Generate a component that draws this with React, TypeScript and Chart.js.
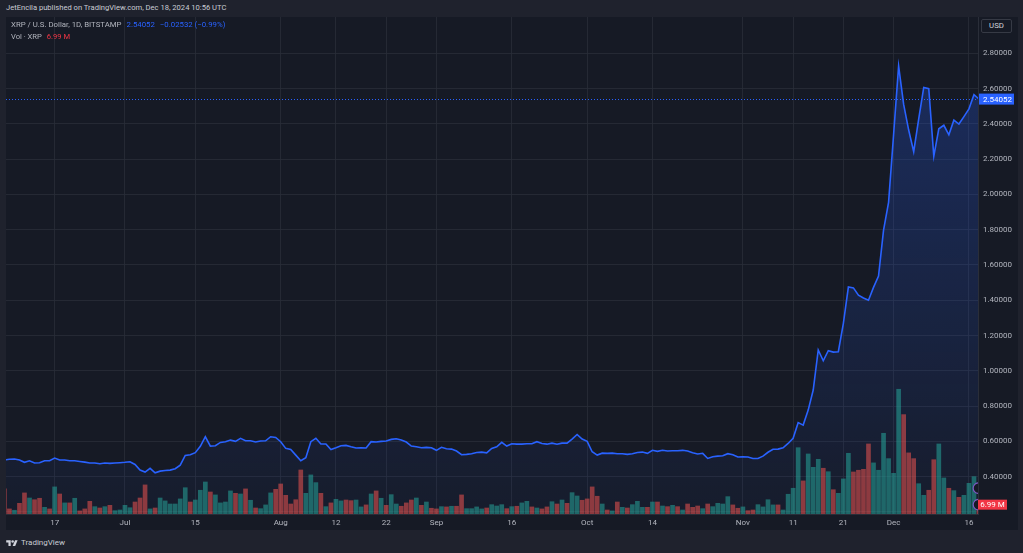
import React, { useEffect, useRef } from "react";
import { Chart, registerables } from "chart.js";

Chart.register(...registerables);

// ---------- data ----------
const START_DATE = "2024-06-07"; // day index 0

// daily close, XRP/USD (Bitstamp), 2024-06-07 .. 2024-12-18
const PRICE_CLOSE = [
  0.494, 0.498, 0.5, 0.494, 0.481, 0.49, 0.477, 0.479, 0.49, 0.49,
  0.505, 0.494, 0.494, 0.49, 0.49, 0.486, 0.482, 0.477, 0.477, 0.473,
  0.477, 0.475, 0.477, 0.479, 0.481, 0.484, 0.469, 0.437, 0.426, 0.447,
  0.422, 0.431, 0.435, 0.437, 0.445, 0.465, 0.52, 0.524, 0.536, 0.572,
  0.626, 0.573, 0.575, 0.594, 0.598, 0.607, 0.6, 0.617, 0.603, 0.603,
  0.596, 0.602, 0.603, 0.626, 0.622, 0.598, 0.56, 0.554, 0.522, 0.49,
  0.507, 0.598, 0.617, 0.585, 0.585, 0.554, 0.564, 0.575, 0.577, 0.569,
  0.562, 0.564, 0.562, 0.598, 0.596, 0.6, 0.602, 0.611, 0.615, 0.607,
  0.596, 0.573, 0.569, 0.564, 0.566, 0.564, 0.549, 0.566, 0.558, 0.556,
  0.545, 0.524, 0.526, 0.53, 0.537, 0.539, 0.535, 0.56, 0.569, 0.594,
  0.573, 0.586, 0.584, 0.584, 0.586, 0.586, 0.598, 0.588, 0.584, 0.59,
  0.584, 0.59, 0.59, 0.613, 0.639, 0.613, 0.6, 0.541, 0.522, 0.533,
  0.532, 0.533, 0.53, 0.53, 0.526, 0.53, 0.537, 0.539, 0.532, 0.549,
  0.543, 0.549, 0.545, 0.547, 0.547, 0.549, 0.545, 0.535, 0.528, 0.532,
  0.503, 0.513, 0.516, 0.518, 0.53, 0.524, 0.511, 0.513, 0.511, 0.503,
  0.503, 0.516, 0.538, 0.555, 0.556, 0.563, 0.588, 0.617, 0.706, 0.692,
  0.777, 0.891, 1.118, 1.057, 1.114, 1.106, 1.108, 1.269, 1.475, 1.47,
  1.429, 1.413, 1.4, 1.473, 1.537, 1.798, 1.955, 2.34, 2.728, 2.51,
  2.365, 2.242, 2.428, 2.607, 2.6, 2.216, 2.372, 2.392, 2.338, 2.421,
  2.399, 2.441, 2.485, 2.56584, 2.54052,
];

// daily volume, millions XRP
const VOLUME_M = [
  18.8, 3.8, 2.8, 8.0, 15.8, 12.0, 10.7, 11.8, 5.0, 3.8,
  20.3, 15.0, 8.3, 8.3, 11.8, 2.3, 3.8, 9.5, 5.5, 4.5,
  5.5, 6.5, 2.5, 3.0, 6.5, 4.7, 9.0, 12.0, 21.8, 3.8,
  4.5, 12.0, 9.8, 7.5, 7.5, 11.3, 19.7, 9.0, 10.5, 17.8,
  24.0, 16.5, 14.3, 8.3, 9.0, 17.3, 15.5, 15.0, 18.8, 10.3,
  4.5, 4.0, 6.8, 15.8, 18.5, 22.5, 14.0, 7.5, 10.7, 33.0,
  15.5, 29.3, 23.5, 15.5, 5.5, 8.3, 11.0, 9.8, 10.5, 10.0,
  10.5, 5.3, 6.8, 15.0, 17.3, 11.8, 6.5, 14.5, 7.5, 5.8,
  8.3, 10.5, 12.0, 6.5, 9.0, 4.3, 3.8, 5.5, 5.3, 5.8,
  5.8, 14.3, 4.0, 4.0, 5.3, 3.8, 4.5, 7.0, 6.0, 7.0,
  4.0, 5.5, 5.8, 8.3, 9.5, 5.3, 4.5, 3.8, 5.3, 9.2,
  7.5, 10.5, 8.0, 16.0, 13.5, 10.3, 11.3, 20.3, 13.3, 7.5,
  3.0, 2.3, 9.0, 5.0, 4.5, 7.0, 9.5, 5.0, 5.0, 9.0,
  9.0, 6.0, 5.5, 6.5, 5.5, 3.0, 7.5, 5.0, 6.0, 4.0,
  7.5, 5.5, 8.0, 7.5, 13.0, 6.8, 4.3, 5.3, 2.5, 3.0,
  7.0, 5.3, 10.7, 6.8, 6.8, 3.0, 14.8, 19.3, 49.7, 24.8,
  45.0, 35.0, 41.0, 34.3, 31.7, 18.2, 15.5, 26.3, 45.5, 31.5,
  32.8, 33.5, 52.5, 38.3, 32.8, 60.5, 41.5, 30.5, 93.5, 74.5,
  45.8, 41.5, 22.7, 14.0, 17.8, 40.7, 52.5, 27.0, 19.3, 17.5,
  12.5, 14.0, 23.0, 28.0, 6.99,
];

// 1 = up day (green volume), 0 = down day (red volume)
const VOLUME_UP = [
  0, 0, 1, 0, 0, 1, 0, 0, 1, 0,
  1, 0, 1, 0, 1, 0, 0, 0, 1, 0,
  1, 0, 1, 1, 1, 1, 0, 0, 0, 1,
  0, 1, 1, 1, 1, 1, 1, 0, 1, 1,
  1, 0, 1, 1, 1, 1, 0, 1, 0, 1,
  0, 1, 1, 1, 0, 0, 0, 0, 0, 0,
  1, 1, 1, 0, 1, 0, 1, 1, 0, 0,
  1, 1, 0, 1, 0, 1, 0, 1, 1, 0,
  0, 0, 1, 0, 1, 0, 0, 1, 0, 1,
  0, 0, 1, 1, 1, 1, 0, 1, 1, 1,
  0, 1, 0, 1, 1, 0, 1, 0, 0, 1,
  0, 1, 0, 1, 1, 0, 0, 0, 0, 1,
  0, 1, 0, 1, 0, 1, 1, 1, 0, 1,
  0, 1, 0, 1, 0, 1, 0, 0, 0, 1,
  0, 1, 1, 1, 1, 0, 0, 1, 0, 0,
  1, 1, 1, 1, 0, 1, 1, 1, 1, 0,
  1, 1, 1, 0, 1, 0, 1, 1, 1, 0,
  0, 0, 0, 1, 1, 1, 1, 1, 1, 0,
  0, 0, 1, 1, 0, 0, 1, 1, 0, 1,
  0, 1, 1, 1, 0,
];

const TICK_DATES = [
  "2024-06-17", "2024-07-01", "2024-07-15", "2024-08-01", "2024-08-12",
  "2024-08-22", "2024-09-01", "2024-09-16", "2024-10-01", "2024-10-14",
  "2024-11-01", "2024-11-11", "2024-11-21", "2024-12-01", "2024-12-16",
];
const TICK_LABELS = ["17", "Jul", "15", "Aug", "12", "22", "Sep", "16", "Oct", "14", "Nov", "11", "21", "Dec", "16"];
const PRICE_TICKS = [0.2, 0.4, 0.6, 0.8, 1.0, 1.2, 1.4, 1.6, 1.8, 2.0, 2.2, 2.4, 2.6, 2.8];

const LAST_PRICE = PRICE_CLOSE[PRICE_CLOSE.length - 1];
const PRICE_CHANGE = LAST_PRICE - PRICE_CLOSE[PRICE_CLOSE.length - 2];
const LAST_VOLUME = VOLUME_M[VOLUME_M.length - 1];

// ---------- style ----------
const FONT = 'Roboto, "Liberation Sans", "DejaVu Sans", sans-serif';
const FRAME_BG = "#1f222d";
const PANEL_BG = "#161a25";
const GRID = "rgba(42,46,57,0.75)";
const BORDER = "#2a2e39";
const AXIS_TEXT = "#b2b5be";
const BLUE = "#2962ff";
const UP_VOL = "rgba(38,166,154,0.55)";
const DOWN_VOL = "rgba(239,83,80,0.55)";
const RED_LABEL = "#f23645";
const AXIS_FONT = 8;

const dayIndex = (iso: string) =>
  Math.round((Date.parse(iso) - Date.parse(START_DATE)) / 86400000);
const TICK_INDEX = TICK_DATES.map(dayIndex);

const overlayPlugin = {
  id: "tvOverlay",
  beforeDatasetsDraw(chart: any) {
    const { ctx, chartArea, scales } = chart;
    const y = Math.round(scales.y.getPixelForValue(LAST_PRICE)) + 0.5;
    ctx.save();
    ctx.strokeStyle = BLUE;
    ctx.lineWidth = 1;
    ctx.setLineDash([1, 2]);
    ctx.beginPath();
    ctx.moveTo(chartArea.left, y);
    ctx.lineTo(chartArea.right, y);
    ctx.stroke();
    ctx.restore();
  },
  afterDraw(chart: any) {
    const { ctx, chartArea, scales } = chart;
    ctx.save();
    // indicator badges at right edge of the pane
    ctx.beginPath();
    ctx.rect(chartArea.left, chartArea.top, chartArea.right - chartArea.left, chartArea.bottom - chartArea.top);
    ctx.clip();
    const vy = scales.yv.getPixelForValue(LAST_VOLUME);
    [vy - 16.5, vy].forEach((cy) => {
      ctx.beginPath();
      ctx.arc(chartArea.right + 0.5, cy, 5.3, 0, Math.PI * 2);
      ctx.fillStyle = PANEL_BG;
      ctx.fill();
      ctx.strokeStyle = "#7e57c2";
      ctx.lineWidth = 1.2;
      ctx.stroke();
    });
    ctx.restore();

    ctx.save();
    ctx.font = `${AXIS_FONT}px ${FONT}`;
    ctx.textBaseline = "middle";
    // last price label
    const py = scales.y.getPixelForValue(LAST_PRICE);
    ctx.fillStyle = BLUE;
    ctx.fillRect(chartArea.right + 1, py - 5.5, 35, 11);
    ctx.fillStyle = "#ffffff";
    ctx.textAlign = "left";
    ctx.fillText(LAST_PRICE.toFixed(5), chartArea.right + 5, py + 0.5);
    // last volume label
    ctx.fillStyle = RED_LABEL;
    ctx.fillRect(chartArea.right, vy - 5, 29, 10);
    ctx.fillStyle = "#ffffff";
    ctx.textAlign = "center";
    ctx.fillText(`${LAST_VOLUME.toFixed(2)} M`, chartArea.right + 14.5, vy + 0.5);
    ctx.restore();
  },
};

function TVLogo() {
  return (
    <svg width="12" height="9" viewBox="0 0 36 28" style={{ display: "block" }}>
      <path d="M14 22H7V11H0V4h14v18z" fill="#d1d4dc" />
      <circle cx="20" cy="8" r="4" fill="#d1d4dc" />
      <path d="M28 22h-8l7.5-18h8L28 22z" fill="#d1d4dc" />
    </svg>
  );
}

export default function App() {
  const canvasRef = useRef<HTMLCanvasElement | null>(null);

  useEffect(() => {
    const canvas = canvasRef.current;
    if (!canvas) return;
    const priceData = PRICE_CLOSE.map((p, i) => ({ x: i, y: p }));
    const volData = VOLUME_M.map((v, i) => ({ x: i, y: v }));
    const volMax = Math.max(...VOLUME_M) / 0.251;

    const chart = new Chart(canvas, {
      data: {
        datasets: [
          {
            type: "line",
            label: "XRP / U.S. Dollar",
            data: priceData,
            xAxisID: "x",
            yAxisID: "y",
            borderColor: BLUE,
            borderWidth: 1.6,
            pointRadius: 0,
            tension: 0,
            fill: "start",
            clip: 0,
            order: 0,
            backgroundColor: (c: any) => {
              const ca = c.chart.chartArea;
              if (!ca) return "rgba(41,98,255,0.1)";
              const g = c.chart.ctx.createLinearGradient(0, ca.top, 0, ca.bottom);
              g.addColorStop(0, "rgba(41,98,255,0.28)");
              g.addColorStop(1, "rgba(41,98,255,0.03)");
              return g;
            },
          } as any,
          {
            type: "bar",
            label: "Vol · XRP",
            data: volData,
            xAxisID: "x",
            yAxisID: "yv",
            backgroundColor: VOLUME_UP.map((u) => (u ? UP_VOL : DOWN_VOL)),
            borderWidth: 0,
            barThickness: 4,
            clip: 0,
            order: 1,
          } as any,
        ],
      },
      options: {
        animation: false,
        responsive: false,
        maintainAspectRatio: false,
        events: [],
        layout: { padding: 0 },
        plugins: {
          legend: { display: false },
          tooltip: { enabled: false },
          filler: { drawTime: "beforeDatasetsDraw" },
        } as any,
        scales: {
          x: {
            type: "linear",
            position: "bottom",
            min: 0.32,
            max: 193.8,
            offset: false,
            grid: { color: GRID, drawTicks: false, offset: false },
            border: { display: true, color: BORDER },
            ticks: {
              autoSkip: false,
              maxRotation: 0,
              minRotation: 0,
              padding: 4,
              color: AXIS_TEXT,
              font: { family: FONT, size: AXIS_FONT },
              callback: (_v: any, idx: number) => TICK_LABELS[idx],
            },
            afterBuildTicks: (s: any) => {
              s.ticks = TICK_INDEX.map((v) => ({ value: v }));
            },
            afterFit: (s: any) => {
              s.height = 16;
              s.paddingLeft = 0;
              s.paddingRight = 0;
            },
          } as any,
          y: {
            type: "linear",
            position: "right",
            min: 0.188,
            max: 3.006,
            grid: { color: GRID, drawTicks: false },
            border: { display: true, color: BORDER },
            ticks: {
              padding: 5,
              color: AXIS_TEXT,
              font: { family: FONT, size: AXIS_FONT },
              callback: (v: any) => (Math.abs(v - 0.2) < 1e-9 ? "" : Number(v).toFixed(5)),
            },
            afterBuildTicks: (s: any) => {
              s.ticks = PRICE_TICKS.map((v) => ({ value: v }));
            },
            afterFit: (s: any) => {
              s.width = 40;
              s.paddingTop = 0;
              s.paddingBottom = 0;
            },
          } as any,
          yv: {
            type: "linear",
            display: false,
            min: 0,
            max: volMax,
          } as any,
        },
      },
      plugins: [overlayPlugin],
    } as any);

    return () => chart.destroy();
  }, []);

  const changePct = (PRICE_CHANGE / PRICE_CLOSE[PRICE_CLOSE.length - 2]) * 100;
  const fmtSigned = (v: number, d: number) => (v < 0 ? "\u2212" : "+") + Math.abs(v).toFixed(d);

  return (
    <div
      style={{
        position: "fixed",
        left: 0,
        top: 0,
        width: 1023,
        height: 553,
        background: FRAME_BG,
        overflow: "hidden",
        fontFamily: FONT,
      }}
    >
      <div style={{ position: "absolute", left: 6, top: 3, fontSize: 7.6, lineHeight: "10px", color: "#c9ccd4", whiteSpace: "nowrap" }}>
        JetEncila published on TradingView.com, Dec 18, 2024 10:56 UTC
      </div>
      <canvas
        ref={canvasRef}
        width={1012}
        height={513}
        style={{ position: "absolute", left: 6, top: 17, width: 1012, height: 513, background: PANEL_BG }}
      />
      <div style={{ position: "absolute", left: 11, top: 20, fontSize: 7.8, lineHeight: "10px", color: AXIS_TEXT, whiteSpace: "nowrap" }}>
        XRP / U.S. Dollar, 1D, BITSTAMP
        <span style={{ color: BLUE, marginLeft: 5 }}>{LAST_PRICE.toFixed(5)}</span>
        <span style={{ color: BLUE, marginLeft: 5 }}>
          {fmtSigned(PRICE_CHANGE, 5)} ({fmtSigned(changePct, 2)}%)
        </span>
      </div>
      <div style={{ position: "absolute", left: 11, top: 32, fontSize: 7.6, lineHeight: "10px", color: AXIS_TEXT, whiteSpace: "nowrap" }}>
        Vol · XRP
        <span style={{ color: RED_LABEL, marginLeft: 5 }}>{LAST_VOLUME.toFixed(2)} M</span>
      </div>
      <div
        style={{
          position: "absolute",
          left: 981,
          top: 19,
          width: 31,
          height: 14,
          border: "1px solid #363a45",
          borderRadius: 2,
          boxSizing: "border-box",
          color: "#d1d4dc",
          fontSize: 7.8,
          lineHeight: "12px",
          textAlign: "center",
          background: PANEL_BG,
        }}
      >
        USD
      </div>
      <div style={{ position: "absolute", left: 6, top: 538, display: "flex", alignItems: "center", gap: 3 }}>
        <TVLogo />
        <span style={{ fontSize: 8, lineHeight: "10px", color: "#c9ccd4" }}>TradingView</span>
      </div>
    </div>
  );
}
